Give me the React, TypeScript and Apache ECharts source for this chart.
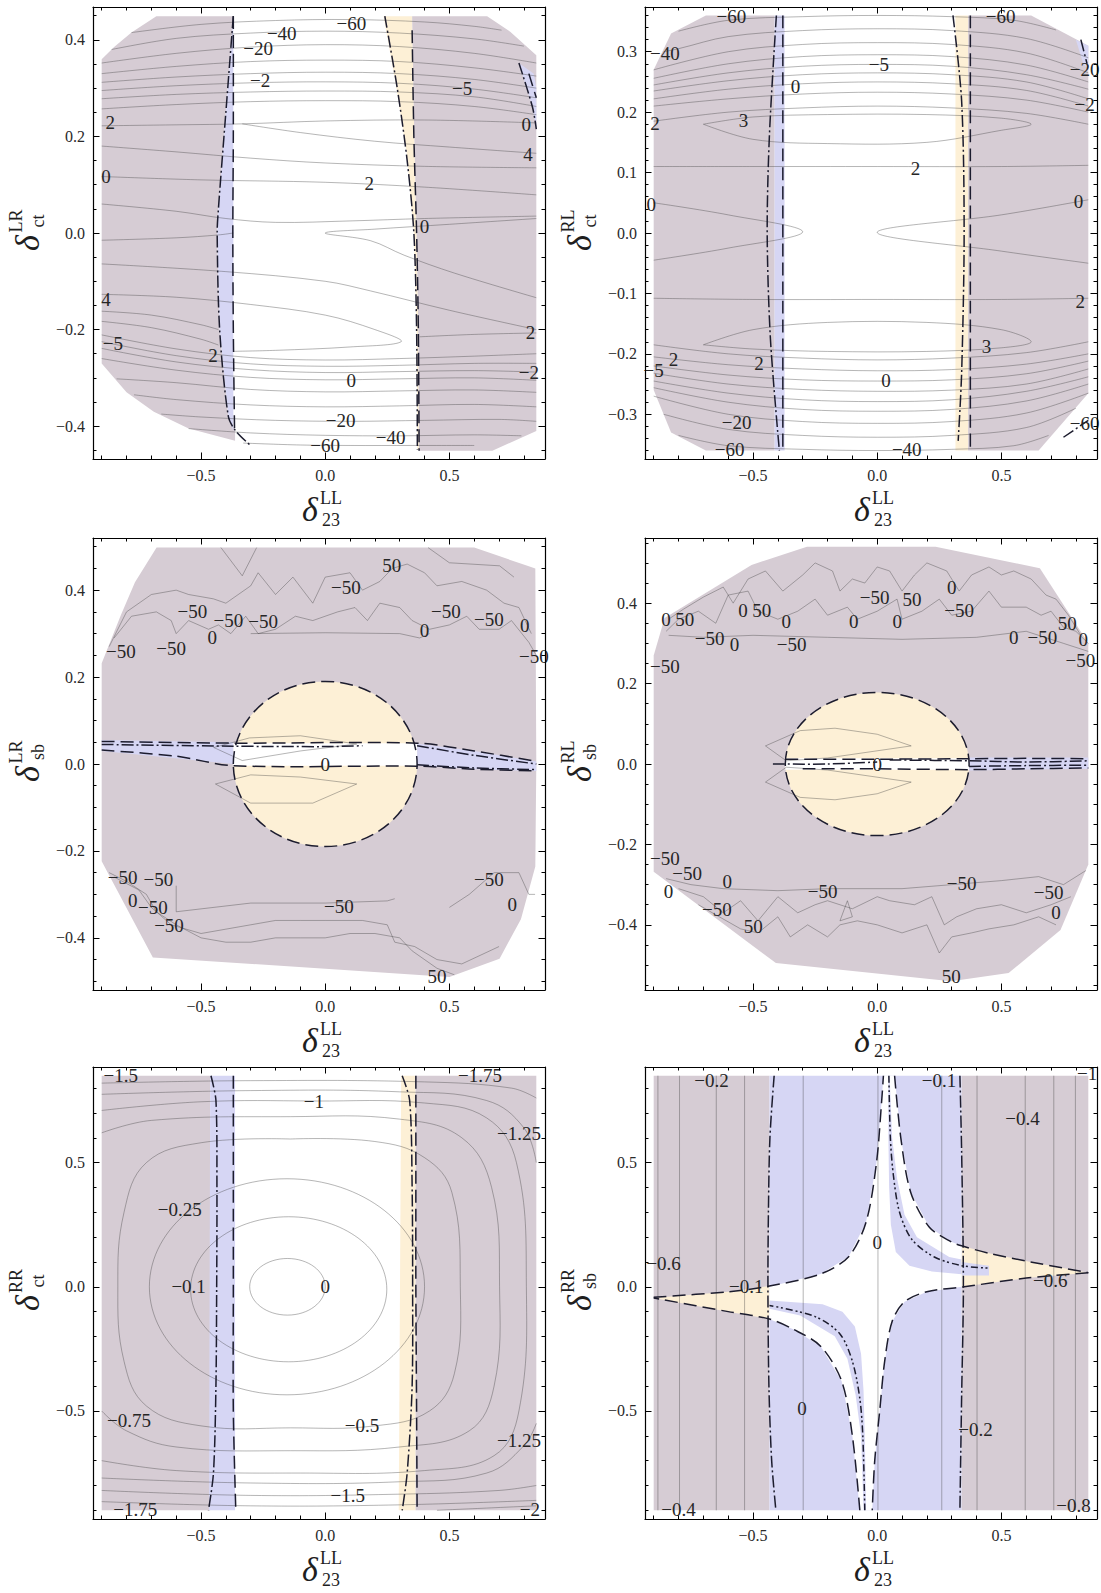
import React, { useEffect, useRef } from "react";
import * as echarts from "echarts";

type P = number[];
type Lb = [number, number, string];

// ---------------- ticks ----------------
const X_LABELS = [-0.5, 0, 0.5];
const X_TICKS = [-0.9, -0.8, -0.7, -0.6, -0.5, -0.4, -0.3, -0.2, -0.1, 0, 0.1, 0.2, 0.3, 0.4, 0.5, 0.6, 0.7, 0.8];
const P1_Y_LABELS = [-0.4, -0.2, 0, 0.2, 0.4];
const P1_Y_TICKS = [-0.45, -0.4, -0.35, -0.3, -0.25, -0.2, -0.15, -0.1, -0.05, 0, 0.05, 0.1, 0.15, 0.2, 0.25, 0.3, 0.35, 0.4, 0.45];
const P2_Y_LABELS = [-0.3, -0.2, -0.1, 0, 0.1, 0.2, 0.3];
const P2_Y_TICKS = [-0.36, -0.34, -0.32, -0.3, -0.28, -0.26, -0.24, -0.22, -0.2, -0.18, -0.16, -0.14, -0.12, -0.1, -0.08, -0.06, -0.04, -0.02, 0, 0.02, 0.04, 0.06, 0.08, 0.1, 0.12, 0.14, 0.16, 0.18, 0.2, 0.22, 0.24, 0.26, 0.28, 0.3, 0.32, 0.34, 0.36];
const P3_Y_LABELS = [-0.4, -0.2, 0, 0.2, 0.4];
const P3_Y_TICKS = [-0.5, -0.45, -0.4, -0.35, -0.3, -0.25, -0.2, -0.15, -0.1, -0.05, 0, 0.05, 0.1, 0.15, 0.2, 0.25, 0.3, 0.35, 0.4, 0.45, 0.5];
const P4_Y_TICKS = [-0.55, -0.5, -0.45, -0.4, -0.35, -0.3, -0.25, -0.2, -0.15, -0.1, -0.05, 0, 0.05, 0.1, 0.15, 0.2, 0.25, 0.3, 0.35, 0.4, 0.45, 0.5, 0.55];
const P56_Y_LABELS = [-0.5, 0, 0.5];
const P56_Y_TICKS = [-0.9, -0.8, -0.7, -0.6, -0.5, -0.4, -0.3, -0.2, -0.1, 0, 0.1, 0.2, 0.3, 0.4, 0.5, 0.6, 0.7, 0.8];

// ---------------- panel 1 ----------------
const P1_GRAY_L: P[] = [[-0.9, 0.36], [-0.85, 0.385], [-0.78, 0.415], [-0.68, 0.449], [-0.37, 0.449], [-0.4, 0.25], [-0.43, 0.05], [-0.435, 0.0], [-0.425, -0.2], [-0.39, -0.38], [-0.363, -0.41], [-0.363, -0.43], [-0.55, -0.405], [-0.69, -0.37], [-0.8, -0.33], [-0.9, -0.27]];
const P1_BLUE_L: P[] = [[-0.37, 0.449], [-0.37, -0.41], [-0.39, -0.38], [-0.425, -0.2], [-0.435, 0.0], [-0.43, 0.05], [-0.4, 0.25]];
const P1_YELLOW: P[] = [[0.235, 0.449], [0.35, 0.449], [0.355, 0.3], [0.363, 0.1], [0.368, 0.0], [0.375, -0.2], [0.378, -0.449], [0.371, -0.449], [0.368, -0.2], [0.357, 0.0], [0.328, 0.166], [0.285, 0.306]];
const P1_GRAY_R: P[] = [[0.35, 0.449], [0.652, 0.449], [0.745, 0.417], [0.85, 0.368], [0.85, -0.41], [0.673, -0.451], [0.378, -0.451], [0.375, -0.2], [0.368, 0.0], [0.363, 0.1], [0.355, 0.3]];
const P1_BLUE_R: P[] = [[0.78, 0.352], [0.84, 0.33], [0.85, 0.3], [0.85, 0.215], [0.835, 0.26]];
const P1_CONTOURS: P[][] = [
  [[-0.78, 0.415], [-0.5, 0.432], [-0.2, 0.44], [0.1, 0.442], [0.4, 0.437], [0.6, 0.428], [0.71, 0.42]],
  [[-0.86, 0.38], [-0.6, 0.403], [-0.3, 0.414], [0, 0.418], [0.3, 0.414], [0.6, 0.402], [0.8, 0.387]],
  [[-0.9, 0.352], [-0.6, 0.372], [-0.3, 0.385], [0, 0.39], [0.3, 0.386], [0.6, 0.372], [0.85, 0.352]],
  [[-0.9, 0.33], [-0.6, 0.345], [-0.3, 0.355], [0, 0.358], [0.3, 0.355], [0.6, 0.342], [0.85, 0.325]],
  [[-0.9, 0.312], [-0.6, 0.323], [-0.3, 0.33], [0, 0.333], [0.3, 0.33], [0.6, 0.318], [0.85, 0.3]],
  [[-0.9, 0.295], [-0.6, 0.305], [-0.3, 0.311], [0, 0.313], [0.3, 0.31], [0.6, 0.298], [0.85, 0.28]],
  [[-0.9, 0.278], [-0.6, 0.287], [-0.3, 0.292], [0, 0.294], [0.3, 0.292], [0.6, 0.282], [0.85, 0.262]],
  [[-0.9, 0.257], [-0.6, 0.266], [-0.3, 0.272], [0, 0.274], [0.3, 0.272], [0.6, 0.262], [0.85, 0.245]],
  [[-0.9, 0.222], [-0.6, 0.224], [-0.334, 0.226], [0, 0.232], [0.4, 0.234], [0.85, 0.228]],
  [[-0.334, 0.226], [-0.1, 0.208], [0.2, 0.19], [0.5, 0.178], [0.85, 0.165]],
  [[-0.9, 0.18], [-0.6, 0.168], [-0.3, 0.155], [0, 0.145], [0.4, 0.138], [0.85, 0.135]],
  [[-0.9, 0.117], [-0.5, 0.11], [0, 0.105], [0.4, 0.095], [0.85, 0.079]],
  [[-0.9, 0.06], [-0.6, 0.045], [-0.4, 0.03], [-0.2, 0.022], [0.1, 0.025], [0.4, 0.03], [0.85, 0.035]],
  [[-0.9, -0.015], [-0.6, -0.01], [-0.43, -0.004], [-0.37, 0.0]],
  [[0.85, 0.03], [0.5, 0.018], [0.2, 0.008], [0.0, 0.0], [0.183, -0.016], [0.318, -0.046], [0.52, -0.083], [0.85, -0.134]],
  [[-0.9, -0.064], [-0.4, -0.08], [0.0, -0.1], [0.183, -0.12], [0.5, -0.16], [0.85, -0.2]],
  [[-0.9, -0.127], [-0.6, -0.133], [-0.3, -0.148], [0, -0.17], [0.2, -0.2], [0.306, -0.225], [0.1, -0.236], [-0.2, -0.243], [-0.37, -0.245]],
  [[0.38, -0.215], [0.6, -0.21], [0.85, -0.207]],
  [[-0.9, -0.162], [-0.7, -0.17], [-0.5, -0.19], [-0.43, -0.2]],
  [[-0.9, -0.183], [-0.7, -0.196], [-0.5, -0.22], [-0.43, -0.232]],
  [[-0.9, -0.211], [-0.6, -0.24], [-0.3, -0.258], [0, -0.263], [0.3, -0.26], [0.6, -0.255], [0.85, -0.25]],
  [[-0.9, -0.225], [-0.6, -0.254], [-0.3, -0.271], [0, -0.276], [0.3, -0.274], [0.6, -0.27], [0.85, -0.27]],
  [[-0.9, -0.239], [-0.6, -0.267], [-0.3, -0.283], [0, -0.289], [0.3, -0.287], [0.6, -0.285], [0.85, -0.288]],
  [[-0.9, -0.26], [-0.6, -0.284], [-0.3, -0.299], [0, -0.304], [0.3, -0.302], [0.6, -0.3], [0.85, -0.305]],
  [[-0.84, -0.302], [-0.6, -0.31], [-0.3, -0.324], [0, -0.329], [0.3, -0.327], [0.6, -0.325], [0.85, -0.33]],
  [[-0.77, -0.335], [-0.6, -0.345], [-0.3, -0.356], [0, -0.36], [0.3, -0.358], [0.6, -0.355], [0.85, -0.36]],
  [[-0.66, -0.375], [-0.5, -0.381], [-0.2, -0.388], [0.1, -0.39], [0.4, -0.388], [0.7, -0.386], [0.85, -0.39]],
  [[-0.55, -0.405], [-0.3, -0.414], [0, -0.419], [0.3, -0.42], [0.6, -0.418], [0.79, -0.42]],
  [[-0.33, -0.435], [-0.1, -0.439], [0.1, -0.44], [0.35, -0.44], [0.6, -0.44]],
];
const P1_DASHDOT: P[][] = [
  [[-0.37, 0.449], [-0.4, 0.25], [-0.43, 0.05], [-0.435, 0.0], [-0.425, -0.2], [-0.39, -0.38], [-0.36, -0.41], [-0.305, -0.438]],
  [[0.24, 0.449], [0.29, 0.3], [0.33, 0.15], [0.357, 0.0], [0.368, -0.2], [0.371, -0.449]],
  [[0.78, 0.352], [0.835, 0.26], [0.85, 0.215]],
];
const P1_DASHED: P[][] = [
  [[-0.37, 0.449], [-0.37, 0.2], [-0.372, 0.0], [-0.37, -0.2], [-0.365, -0.41]],
  [[0.35, 0.42], [0.357, 0.2], [0.368, 0.0], [0.375, -0.2], [0.378, -0.451]],
  [[0.82, 0.33], [0.85, 0.28]],
];
const P1_LABELS: Lb[] = [[0.105, 0.433, "−60"], [-0.175, 0.414, "−40"], [-0.27, 0.383, "−20"], [-0.262, 0.316, "−2"], [0.551, 0.3, "−5"], [-0.866, 0.229, "2"], [0.81, 0.225, "0"], [0.817, 0.163, "4"], [-0.883, 0.117, "0"], [0.177, 0.103, "2"], [0.4, 0.013, "0"], [-0.883, -0.137, "4"], [-0.855, -0.228, "−5"], [0.827, -0.207, "2"], [-0.452, -0.253, "2"], [0.82, -0.288, "−2"], [0.105, -0.305, "0"], [0.062, -0.389, "−20"], [0.263, -0.424, "−40"], [0.0, -0.44, "−60"]];

// ---------------- panel 2 ----------------
const P2_GRAY_L: P[] = [[-0.9, 0.27], [-0.83, 0.33], [-0.69, 0.36], [-0.413, 0.36], [-0.413, -0.36], [-0.69, -0.36], [-0.83, -0.33], [-0.9, -0.26]];
const P2_BLUE_L: P[] = [[-0.413, 0.36], [-0.373, 0.36], [-0.373, -0.36], [-0.413, -0.36]];
const P2_YELLOW: P[] = [[0.315, 0.36], [0.366, 0.36], [0.366, -0.36], [0.315, -0.36]];
const P2_GRAY_R: P[] = [[0.366, 0.36], [0.62, 0.36], [0.85, 0.31], [0.85, -0.265], [0.65, -0.36], [0.366, -0.36]];
const P2_BLUE_R: P[] = [[0.8, 0.32], [0.85, 0.31], [0.85, 0.27], [0.83, 0.28]];
const P2_CONTOURS: P[][] = [
  [[-0.8, 0.334], [-0.6, 0.352], [-0.3, 0.358], [0, 0.36], [0.3, 0.358], [0.55, 0.352], [0.72, 0.336]],
  [[-0.86, 0.3], [-0.8, 0.305], [-0.6, 0.325], [-0.3, 0.335], [0, 0.338], [0.3, 0.335], [0.6, 0.322], [0.85, 0.29]],
  [[-0.9, 0.27], [-0.6, 0.3], [-0.3, 0.312], [0, 0.315], [0.3, 0.312], [0.6, 0.298], [0.85, 0.265]],
  [[-0.9, 0.256], [-0.6, 0.28], [-0.3, 0.292], [0, 0.295], [0.3, 0.292], [0.6, 0.278], [0.85, 0.25]],
  [[-0.9, 0.245], [-0.6, 0.265], [-0.3, 0.276], [0, 0.279], [0.3, 0.276], [0.6, 0.262], [0.85, 0.238]],
  [[-0.9, 0.235], [-0.6, 0.252], [-0.3, 0.262], [0, 0.265], [0.3, 0.262], [0.6, 0.25], [0.85, 0.222]],
  [[-0.9, 0.222], [-0.6, 0.238], [-0.3, 0.247], [0, 0.25], [0.3, 0.247], [0.6, 0.236], [0.85, 0.21]],
  [[-0.9, 0.21], [-0.6, 0.222], [-0.3, 0.23], [0, 0.233], [0.3, 0.23], [0.6, 0.22], [0.85, 0.2]],
  [[-0.9, 0.185], [-0.6, 0.2], [-0.3, 0.207], [0, 0.21], [0.3, 0.207], [0.6, 0.198], [0.85, 0.18]],
  [[-0.7, 0.18], [-0.5, 0.192], [-0.2, 0.196], [0.2, 0.196], [0.5, 0.19], [0.62, 0.18], [0.5, 0.17], [0.2, 0.15], [-0.2, 0.148], [-0.5, 0.155], [-0.7, 0.18]],
  [[-0.9, 0.11], [-0.5, 0.11], [0, 0.11], [0.5, 0.11], [0.85, 0.112]],
  [[-0.9, 0.05], [-0.6, 0.03], [-0.3, 0.002], [-0.6, -0.025], [-0.9, -0.045]],
  [[0.85, 0.055], [0.5, 0.03], [0.0, 0.001], [0.5, -0.03], [0.85, -0.05]],
  [[-0.9, -0.108], [-0.5, -0.11], [0, -0.11], [0.5, -0.11], [0.85, -0.108]],
  [[-0.7, -0.185], [-0.5, -0.16], [-0.2, -0.148], [0.2, -0.148], [0.5, -0.16], [0.62, -0.18], [0.5, -0.19], [0.2, -0.196], [-0.2, -0.196], [-0.5, -0.192], [-0.7, -0.185]],
  [[-0.9, -0.185], [-0.6, -0.2], [-0.3, -0.207], [0, -0.21], [0.3, -0.207], [0.6, -0.198], [0.85, -0.18]],
  [[-0.9, -0.205], [-0.6, -0.218], [-0.3, -0.225], [0, -0.228], [0.3, -0.226], [0.6, -0.217], [0.85, -0.2]],
  [[-0.9, -0.22], [-0.6, -0.235], [-0.3, -0.243], [0, -0.245], [0.3, -0.243], [0.6, -0.233], [0.85, -0.212]],
  [[-0.9, -0.232], [-0.6, -0.25], [-0.3, -0.259], [0, -0.262], [0.3, -0.26], [0.6, -0.25], [0.85, -0.225]],
  [[-0.9, -0.245], [-0.6, -0.265], [-0.3, -0.276], [0, -0.279], [0.3, -0.276], [0.6, -0.262], [0.85, -0.238]],
  [[-0.9, -0.256], [-0.6, -0.28], [-0.3, -0.292], [0, -0.295], [0.3, -0.292], [0.6, -0.278], [0.85, -0.25]],
  [[-0.9, -0.27], [-0.6, -0.3], [-0.3, -0.312], [0, -0.315], [0.3, -0.312], [0.6, -0.298], [0.85, -0.265]],
  [[-0.86, -0.3], [-0.6, -0.325], [-0.3, -0.335], [0, -0.338], [0.3, -0.335], [0.6, -0.322], [0.8, -0.29]],
  [[-0.8, -0.335], [-0.6, -0.352], [-0.3, -0.358], [0, -0.36], [0.3, -0.358], [0.55, -0.352], [0.69, -0.335]],
];
const P2_DASHDOT: P[][] = [
  [[-0.406, 0.36], [-0.434, 0.162], [-0.443, 0.0], [-0.43, -0.175], [-0.394, -0.36]],
  [[0.305, 0.36], [0.34, 0.218], [0.35, 0.0], [0.34, -0.231], [0.326, -0.344]],
  [[0.82, 0.32], [0.845, 0.28]],
  [[0.75, -0.338], [0.85, -0.31]],
];
const P2_DASHED: P[][] = [
  [[-0.38, 0.36], [-0.38, -0.36]],
  [[0.375, 0.36], [0.375, -0.36]],
];
const P2_LABELS: Lb[] = [[-0.587, 0.358, "−60"], [0.497, 0.358, "−60"], [-0.855, 0.297, "−40"], [0.007, 0.279, "−5"], [0.835, 0.271, "−20"], [-0.329, 0.242, "0"], [0.835, 0.213, "−2"], [-0.538, 0.187, "3"], [-0.895, 0.181, "2"], [0.154, 0.107, "2"], [-0.91, 0.047, "0"], [0.811, 0.052, "0"], [0.818, -0.113, "2"], [0.44, -0.187, "3"], [-0.476, -0.216, "2"], [-0.9, -0.228, "−5"], [-0.82, -0.21, "2"], [0.035, -0.244, "0"], [-0.566, -0.313, "−20"], [-0.594, -0.358, "−60"], [0.119, -0.358, "−40"], [0.835, -0.315, "−60"]];

// ---------------- panel 3 ----------------
const P3_GRAY: P[] = [[-0.9, 0.232], [-0.823, 0.342], [-0.766, 0.418], [-0.679, 0.498], [0.6, 0.498], [0.814, 0.456], [0.846, 0.45], [0.85, 0.0], [0.846, -0.236], [0.788, -0.357], [0.702, -0.448], [0.5, -0.49], [-0.694, -0.445], [-0.9, -0.224]];
const P3_DISK = [0, 0, 0.37, 0.19];
const P3_BLUE_L: P[] = [[-0.9, 0.055], [-0.37, 0.05], [-0.37, 0.0], [-0.9, 0.03]];
const P3_BLUE_R: P[] = [[0.37, 0.047], [0.6, 0.03], [0.85, 0.006], [0.85, -0.016], [0.6, -0.012], [0.37, -0.004]];
const P3_WHITE: P[] = [[-0.37, 0.048], [0.37, 0.048], [0.37, -0.004], [-0.37, -0.004]];
const P3_CONTOURS: P[][] = [
  [[-0.87, 0.27], [-0.8, 0.35], [-0.7, 0.39], [-0.6, 0.4], [-0.55, 0.39], [-0.45, 0.38], [-0.4, 0.37], [-0.3, 0.41], [-0.27, 0.44], [-0.2, 0.39], [-0.13, 0.43], [-0.05, 0.37], [0.0, 0.43], [0.1, 0.44], [0.15, 0.4], [0.22, 0.42], [0.27, 0.45], [0.33, 0.46], [0.4, 0.44], [0.45, 0.41], [0.55, 0.42], [0.65, 0.4], [0.72, 0.37], [0.78, 0.36], [0.83, 0.3]],
  [[-0.85, 0.29], [-0.78, 0.34], [-0.68, 0.35], [-0.62, 0.33], [-0.6, 0.3], [-0.55, 0.33], [-0.47, 0.31], [-0.43, 0.32], [-0.38, 0.3], [-0.32, 0.34], [-0.27, 0.3], [-0.2, 0.31], [-0.12, 0.34], [-0.05, 0.33], [0.05, 0.35], [0.12, 0.36], [0.17, 0.33], [0.22, 0.37], [0.3, 0.36], [0.35, 0.33], [0.42, 0.31], [0.5, 0.32], [0.57, 0.34], [0.62, 0.31], [0.7, 0.31], [0.75, 0.33], [0.82, 0.28], [0.85, 0.25]],
  [[-0.3, 0.3], [0.0, 0.302], [0.3, 0.3], [0.38, 0.29], [0.42, 0.3]],
  [[-0.42, 0.498], [-0.334, 0.433], [-0.276, 0.498]],
  [[0.414, 0.498], [0.5, 0.463], [0.702, 0.456], [0.76, 0.43]],
  [[-0.87, -0.25], [-0.8, -0.27], [-0.72, -0.3], [-0.68, -0.34], [-0.6, -0.37], [-0.5, -0.4], [-0.4, -0.41], [-0.3, -0.41], [-0.2, -0.4], [-0.1, -0.4], [0.0, -0.4], [0.1, -0.39], [0.2, -0.39], [0.3, -0.4], [0.35, -0.43], [0.45, -0.47], [0.52, -0.485]],
  [[-0.85, -0.26], [-0.75, -0.29], [-0.7, -0.33], [-0.62, -0.37], [-0.5, -0.39], [-0.4, -0.38], [-0.3, -0.37], [-0.2, -0.36], [-0.1, -0.36], [0.0, -0.36], [0.15, -0.36], [0.25, -0.37], [0.28, -0.41], [0.36, -0.42], [0.45, -0.45], [0.55, -0.46], [0.7, -0.42]],
  [[-0.6, -0.28], [-0.6, -0.34], [-0.3, -0.32], [0.0, -0.32], [0.25, -0.315], [0.28, -0.31]],
  [[0.5, -0.33], [0.58, -0.3], [0.68, -0.25], [0.78, -0.25], [0.82, -0.3], [0.845, -0.3]],
  [[-0.334, 0.008], [-0.449, 0.038], [-0.305, 0.06], [-0.1, 0.065], [0.127, 0.046], [-0.1, 0.03], [-0.334, 0.008]],
  [[-0.442, -0.046], [-0.3, -0.025], [-0.1, -0.03], [0.127, -0.046], [-0.05, -0.09], [-0.3, -0.09], [-0.442, -0.046]],
];
const P3_DASHED: P[][] = [
  [[-0.9, 0.052], [-0.37, 0.048], [0.37, 0.048], [0.6, 0.03], [0.85, 0.006]],
  [[-0.9, 0.032], [-0.6, 0.018], [-0.37, -0.004], [0.37, -0.005], [0.6, -0.012], [0.85, -0.016]],
];
const P3_DASHDOT: P[][] = [
  [[-0.9, 0.045], [-0.37, 0.041], [0.0, 0.04], [0.15, 0.042]],
  [[0.37, 0.042], [0.6, 0.02], [0.85, 0.0]],
  [[0.37, -0.002], [0.6, -0.009], [0.85, -0.013]],
];
const P3_LABELS: Lb[] = [[0.268, 0.456, "50"], [0.083, 0.407, "−50"], [-0.535, 0.352, "−50"], [-0.39, 0.331, "−50"], [-0.25, 0.327, "−50"], [-0.455, 0.29, "0"], [0.486, 0.351, "−50"], [0.4, 0.308, "0"], [0.659, 0.333, "−50"], [0.803, 0.318, "0"], [0.84, 0.247, "−50"], [-0.823, 0.26, "−50"], [-0.62, 0.266, "−50"], [0, 0, "0"], [-0.816, -0.262, "−50"], [-0.672, -0.266, "−50"], [-0.775, -0.315, "0"], [-0.694, -0.331, "−50"], [-0.629, -0.372, "−50"], [0.055, -0.327, "−50"], [0.659, -0.266, "−50"], [0.753, -0.323, "0"], [0.45, -0.49, "50"]];

// ---------------- panel 4 ----------------
const P4_GRAY: P[] = [[-0.9, 0.27], [-0.856, 0.363], [-0.506, 0.495], [-0.283, 0.54], [0.235, 0.54], [0.655, 0.487], [0.85, 0.3], [0.85, -0.25], [0.738, -0.413], [0.529, -0.52], [0.298, -0.54], [-0.408, -0.495], [-0.9, -0.268]];
const P4_DISK = [0, 0, 0.37, 0.178];
const P4_WHITE: P[] = [[-0.37, 0.014], [0.37, 0.014], [0.37, -0.014], [-0.37, -0.014]];
const P4_BLUE_R: P[] = [[0.37, 0.016], [0.85, 0.016], [0.85, -0.012], [0.37, -0.016]];
const P4_CONTOURS: P[][] = [
  [[-0.84, 0.36], [-0.78, 0.385], [-0.7, 0.415], [-0.62, 0.44], [-0.58, 0.4], [-0.52, 0.46], [-0.45, 0.48], [-0.38, 0.43], [-0.3, 0.47], [-0.25, 0.5], [-0.18, 0.48], [-0.15, 0.43], [-0.1, 0.46], [-0.05, 0.45], [0.0, 0.49], [0.05, 0.48], [0.1, 0.43], [0.15, 0.47], [0.2, 0.5], [0.28, 0.48], [0.33, 0.43], [0.38, 0.47], [0.45, 0.49], [0.5, 0.47], [0.55, 0.48], [0.62, 0.46], [0.68, 0.42], [0.72, 0.41], [0.77, 0.37], [0.82, 0.32]],
  [[-0.85, 0.33], [-0.8, 0.36], [-0.72, 0.38], [-0.65, 0.35], [-0.6, 0.42], [-0.52, 0.43], [-0.48, 0.38], [-0.4, 0.36], [-0.32, 0.38], [-0.25, 0.41], [-0.2, 0.37], [-0.12, 0.39], [-0.08, 0.36], [0.0, 0.38], [0.08, 0.41], [0.1, 0.36], [0.18, 0.38], [0.25, 0.41], [0.3, 0.37], [0.38, 0.38], [0.45, 0.43], [0.5, 0.39], [0.6, 0.39], [0.66, 0.37], [0.7, 0.38], [0.75, 0.34], [0.8, 0.33], [0.85, 0.3]],
  [[-0.84, 0.32], [-0.7, 0.315], [-0.5, 0.32], [-0.2, 0.315], [0.1, 0.31], [0.4, 0.315], [0.6, 0.33], [0.75, 0.3], [0.85, 0.28]],
  [[-0.85, -0.285], [-0.75, -0.3], [-0.62, -0.31], [-0.4, -0.315], [-0.2, -0.31], [0.1, -0.31], [0.3, -0.3], [0.5, -0.29], [0.65, -0.28], [0.75, -0.3], [0.84, -0.265]],
  [[-0.8, -0.31], [-0.7, -0.33], [-0.62, -0.37], [-0.55, -0.34], [-0.48, -0.39], [-0.4, -0.33], [-0.32, -0.37], [-0.25, -0.35], [-0.2, -0.34], [-0.1, -0.36], [0.0, -0.33], [0.05, -0.34], [0.15, -0.35], [0.22, -0.33], [0.27, -0.4], [0.32, -0.38], [0.4, -0.36], [0.5, -0.35], [0.6, -0.37], [0.7, -0.35], [0.78, -0.33]],
  [[-0.72, -0.35], [-0.65, -0.375], [-0.55, -0.41], [-0.48, -0.42], [-0.4, -0.38], [-0.35, -0.43], [-0.28, -0.4], [-0.2, -0.43], [-0.15, -0.4], [-0.08, -0.39], [0.0, -0.4], [0.1, -0.42], [0.2, -0.4], [0.25, -0.47], [0.3, -0.43], [0.38, -0.42], [0.45, -0.41], [0.55, -0.4], [0.65, -0.38], [0.72, -0.4]],
  [[-0.15, -0.39], [-0.12, -0.34], [-0.1, -0.38], [-0.15, -0.39]],
  [[-0.366, 0.008], [-0.45, 0.045], [-0.31, 0.083], [-0.17, 0.089], [0.0, 0.074], [0.137, 0.045], [-0.2, 0.015], [-0.366, 0.008]],
  [[-0.366, -0.008], [-0.45, -0.045], [-0.31, -0.083], [-0.17, -0.089], [0.0, -0.074], [0.137, -0.045], [-0.2, -0.015], [-0.366, -0.008]],
];
const P4_DASHED: P[][] = [
  [[-0.37, 0.012], [0.0, 0.012], [0.37, 0.013], [0.6, 0.014], [0.85, 0.013]],
  [[-0.3, -0.012], [0.0, -0.012], [0.37, -0.014], [0.6, -0.012], [0.85, -0.01]],
];
const P4_DASHDOT: P[][] = [
  [[-0.42, 0.0], [-0.2, 0.0], [0.0, 0.005]],
  [[0.05, 0.01], [0.37, 0.008], [0.6, 0.005], [0.85, 0.008]],
  [[0.37, -0.006], [0.6, -0.004], [0.85, -0.003]],
];
const P4_LABELS: Lb[] = [[-0.01, 0.413, "−50"], [0.14, 0.41, "50"], [0.3, 0.44, "0"], [0.33, 0.382, "−50"], [-0.465, 0.381, "50"], [-0.54, 0.381, "0"], [-0.85, 0.36, "0"], [-0.775, 0.36, "50"], [-0.366, 0.355, "0"], [-0.094, 0.355, "0"], [0.081, 0.355, "0"], [-0.675, 0.312, "−50"], [-0.575, 0.296, "0"], [-0.345, 0.297, "−50"], [0.55, 0.315, "0"], [0.665, 0.315, "−50"], [0.765, 0.35, "50"], [0.83, 0.31, "0"], [0.818, 0.258, "−50"], [-0.855, 0.243, "−50"], [0, 0, "0"], [-0.855, -0.236, "−50"], [-0.765, -0.272, "−50"], [-0.84, -0.316, "0"], [-0.604, -0.293, "0"], [-0.22, -0.318, "−50"], [-0.646, -0.362, "−50"], [-0.499, -0.404, "50"], [0.34, -0.297, "−50"], [0.69, -0.32, "−50"], [0.72, -0.37, "0"], [0.298, -0.528, "50"]];

// ---------------- panel 5 ----------------
const P5_GRAY_L: P[] = [[-0.9, 0.85], [-0.463, 0.85], [-0.463, -0.9], [-0.9, -0.9]];
const P5_BLUE: P[] = [[-0.463, 0.85], [-0.363, 0.85], [-0.363, -0.9], [-0.468, -0.9]];
const P5_YELLOW: P[] = [[0.306, 0.85], [0.364, 0.85], [0.364, -0.9], [0.296, -0.9]];
const P5_GRAY_R: P[] = [[0.364, 0.85], [0.85, 0.85], [0.85, -0.9], [0.364, -0.9]];
const P5_RINGS = [[-0.152, 0, 0.152, 0.114], [-0.147, -0.01, 0.395, 0.292], [-0.154, 0, 0.554, 0.435]];
const P5_CONTOURS: P[][] = [
  [[-0.14, 0.595], [0.2, 0.585], [0.4, 0.52], [0.51, 0.38], [0.544, 0.0], [0.52, -0.35], [0.42, -0.5], [0.2, -0.56], [-0.14, -0.568], [-0.5, -0.56], [-0.72, -0.48], [-0.81, -0.3], [-0.835, 0.0], [-0.81, 0.3], [-0.72, 0.5], [-0.5, 0.58], [-0.14, 0.595]],
  [[-0.9, 0.62], [-0.7, 0.67], [-0.14, 0.685], [0.3, 0.675], [0.55, 0.6], [0.67, 0.4], [0.702, 0.0], [0.68, -0.4], [0.58, -0.58], [0.3, -0.645], [-0.14, -0.66], [-0.6, -0.645], [-0.8, -0.58], [-0.9, -0.5]],
  [[-0.9, 0.71], [-0.5, 0.745], [-0.046, 0.748], [0.4, 0.74], [0.65, 0.68], [0.77, 0.5], [0.81, 0.0], [0.78, -0.5], [0.68, -0.68], [0.4, -0.74], [-0.1, -0.75], [-0.6, -0.74], [-0.9, -0.7]],
  [[-0.9, 0.775], [-0.3, 0.79], [0.3, 0.785], [0.65, 0.75], [0.8, 0.64], [0.85, 0.5]],
  [[-0.9, -0.77], [-0.3, -0.79], [0.3, -0.785], [0.65, -0.75], [0.8, -0.64], [0.85, -0.55]],
  [[-0.9, 0.82], [-0.3, 0.83], [0.4, 0.825], [0.75, 0.8], [0.85, 0.76]],
  [[-0.9, -0.82], [-0.3, -0.84], [0.3, -0.835], [0.7, -0.82], [0.85, -0.8]],
  [[-0.9, -0.865], [-0.3, -0.882], [0.3, -0.878], [0.85, -0.86]],
  [[0.45, -0.9], [0.85, -0.882]],
];
const P5_DASHDOT: P[][] = [
  [[-0.46, 0.85], [-0.44, 0.75], [-0.436, 0.4], [-0.437, 0.0], [-0.44, -0.4], [-0.45, -0.75], [-0.47, -0.9]],
  [[0.31, 0.85], [0.34, 0.75], [0.35, 0.4], [0.352, 0.0], [0.35, -0.4], [0.33, -0.75], [0.31, -0.9]],
];
const P5_DASHED: P[][] = [
  [[-0.37, 0.85], [-0.37, 0.4], [-0.37, 0.0], [-0.37, -0.5], [-0.36, -0.9]],
  [[0.365, 0.85], [0.365, 0.4], [0.365, 0.0], [0.368, -0.5], [0.37, -0.9]],
];
const P5_LABELS: Lb[] = [[-0.823, 0.852, "−1.5"], [-0.046, 0.748, "−1"], [0.623, 0.852, "−1.75"], [0.78, 0.616, "−1.25"], [-0.586, 0.313, "−0.25"], [-0.55, 0, "−0.1"], [0, 0, "0"], [-0.79, -0.54, "−0.75"], [0.148, -0.558, "−0.5"], [0.78, -0.617, "−1.25"], [0.091, -0.84, "−1.5"], [-0.765, -0.896, "−1.75"], [0.824, -0.896, "−2"]];

// ---------------- panel 6 ----------------
const P6_GRAY_L: P[] = [[-0.9, 0.85], [-0.434, 0.85], [-0.434, -0.9], [-0.9, -0.9]];
const P6_BLUE: P[] = [[-0.434, 0.85], [0.34, 0.85], [0.34, -0.9], [-0.434, -0.9]];
const P6_GRAY_R: P[] = [[0.34, 0.85], [0.85, 0.85], [0.85, -0.9], [0.34, -0.9]];
const P6_YEL_L: P[] = [[-0.434, -0.13], [-0.6, -0.1], [-0.9, -0.045], [-0.6, -0.02], [-0.434, 0.003]];
const P6_YEL_R: P[] = [[0.34, 0.165], [0.45, 0.135], [0.623, 0.099], [0.85, 0.057], [0.6, 0.035], [0.34, 0.0]];
const P6_NOTCH: P[] = [[0.34, 0.1], [0.45, 0.085], [0.45, 0.045], [0.34, 0.045]];
const P6_BAND_I: P[] = [[0.05, 0.85], [0.06, 0.6], [0.08, 0.436], [0.11, 0.29], [0.16, 0.199], [0.29, 0.12], [0.34, 0.11], [0.34, 0.165], [0.3, 0.18], [0.21, 0.24], [0.135, 0.38], [0.095, 0.6], [0.07, 0.85]];
const P6_BAND_III: P[] = [[-0.055, -0.9], [-0.065, -0.6], [-0.087, -0.436], [-0.12, -0.29], [-0.171, -0.199], [-0.31, -0.116], [-0.434, -0.088], [-0.434, -0.13], [-0.338, -0.171], [-0.227, -0.24], [-0.143, -0.38], [-0.1, -0.6], [-0.07, -0.9]];
const P6_CORE: P[] = [[0.025, 0.85], [0.045, 0.85], [0.045, 0.6], [0.048, 0.4], [0.055, 0.25], [0.075, 0.14], [0.13, 0.085], [0.22, 0.062], [0.34, 0.05], [0.34, 0.0], [0.2, -0.02], [0.11, -0.06], [0.06, -0.14], [0.03, -0.3], [0.01, -0.5], [-0.01, -0.7], [-0.02, -0.9], [-0.045, -0.9], [-0.05, -0.6], [-0.055, -0.42], [-0.065, -0.27], [-0.09, -0.16], [-0.14, -0.1], [-0.22, -0.07], [-0.434, -0.055], [-0.434, 0.0], [-0.227, 0.052], [-0.115, 0.121], [-0.045, 0.26], [-0.003, 0.499], [0.018, 0.749]];
const P6_VLINES = [-0.883, -0.796, -0.648, -0.534, -0.298, 0.003, 0.26, 0.402, 0.596, 0.711, 0.798];
const P6_DASHED: P[][] = [
  [[0.07, 0.85], [0.095, 0.6], [0.135, 0.38], [0.21, 0.24], [0.3, 0.18], [0.34, 0.165], [0.45, 0.135], [0.623, 0.099], [0.85, 0.057]],
  [[-0.9, -0.042], [-0.6, -0.02], [-0.434, 0.003], [-0.227, 0.052], [-0.115, 0.121], [-0.045, 0.26], [-0.003, 0.499], [0.018, 0.749], [0.025, 0.85]],
  [[-0.07, -0.9], [-0.1, -0.6], [-0.143, -0.38], [-0.227, -0.24], [-0.338, -0.171], [-0.434, -0.13], [-0.6, -0.1], [-0.9, -0.045]],
  [[0.85, 0.057], [0.6, 0.035], [0.35, 0.0], [0.2, -0.02], [0.11, -0.06], [0.06, -0.14], [0.03, -0.3], [0.01, -0.5], [-0.01, -0.7], [-0.02, -0.9]],
];
const P6_DASHDOT: P[][] = [
  [[-0.415, 0.85], [-0.432, 0.6], [-0.438, 0.3], [-0.44, 0.0], [-0.436, -0.4], [-0.425, -0.7], [-0.408, -0.9]],
  [[0.333, 0.85], [0.34, 0.54], [0.347, 0.0], [0.34, -0.436], [0.333, -0.9]],
];
const P6_DASHDOTDOT: P[][] = [
  [[0.047, 0.85], [0.053, 0.6], [0.065, 0.45], [0.09, 0.3], [0.14, 0.19], [0.23, 0.12], [0.34, 0.085], [0.45, 0.075]],
  [[-0.05, -0.9], [-0.058, -0.6], [-0.07, -0.45], [-0.1, -0.3], [-0.15, -0.19], [-0.25, -0.12], [-0.434, -0.075]],
];
const P6_LABELS: Lb[] = [[-0.667, 0.829, "−0.2"], [0.249, 0.829, "−0.1"], [0.845, 0.859, "−1"], [0.585, 0.678, "−0.4"], [0, 0.177, "0"], [-0.86, 0.093, "−0.6"], [-0.527, 0, "−0.1"], [0.697, 0.026, "−0.6"], [-0.303, -0.492, "0"], [0.396, -0.575, "−0.2"], [-0.8, -0.896, "−0.4"], [0.79, -0.882, "−0.8"]];

// ---------------- styling ----------------
const GRAY = "#d6ccd4";
const BLUE = "#d6d6f4";
const YELLOW = "#fdf0d6";
const WHITE = "#ffffff";
const INK = "#1c1c2e";
const CONTOUR = "rgba(60,60,60,0.42)";
const SERIF = "Liberation Serif";
const DASH = [13, 6];
const DASHDOT = [12, 3, 2, 3];
const DASHDOTDOT = [7, 3, 2, 2.5, 2, 3];
const LABEL_SIZE = 19;
const TICK_SIZE = 16;

const GRID_LEFT = [93, 645];
const GRID_TOP = [7, 538, 1067];
const GRID_W = 452;
const GRID_H = 452;

type Item =
  | { k: "poly"; pts: P[]; fill: string }
  | { k: "ellFill"; e: number[]; fill: string }
  | { k: "ellLine"; e: number[]; dash: number[] | null; color: string; w: number }
  | { k: "line"; pts: P[]; dash: number[] | null; color: string; w: number; smooth: number }
  | { k: "text"; at: P; text: string };

interface Panel {
  col: number; row: number; x: number[]; y: number[]; yl: number[]; yt: number[];
  sup: string; sub: string; fills: Item[]; contours: Item[]; bounds: Item[]; labels: Lb[];
}

const poly = (pts: P[], fill: string): Item => ({ k: "poly", pts, fill });
const lines = (arr: P[][], smooth: number): Item[] => arr.map((pts) => ({ k: "line", pts, dash: null, color: CONTOUR, w: 0.9, smooth }));
const bnd = (arr: P[][], dash: number[]): Item[] => arr.map((pts) => ({ k: "line", pts, dash, color: INK, w: 1.5, smooth: 0.3 }));

const PANELS: Panel[] = [
  {
    col: 0, row: 0, x: [-0.935, 0.885], y: [-0.468, 0.468], yl: P1_Y_LABELS, yt: P1_Y_TICKS, sup: "LR", sub: "ct",
    fills: [poly(P1_GRAY_L, GRAY), poly(P1_BLUE_L, BLUE), poly(P1_YELLOW, YELLOW), poly(P1_GRAY_R, GRAY), poly(P1_BLUE_R, BLUE)],
    contours: lines(P1_CONTOURS, 0.35),
    bounds: [...bnd(P1_DASHED, DASH), ...bnd(P1_DASHDOT, DASHDOT)],
    labels: P1_LABELS,
  },
  {
    col: 1, row: 0, x: [-0.935, 0.885], y: [-0.374, 0.374], yl: P2_Y_LABELS, yt: P2_Y_TICKS, sup: "RL", sub: "ct",
    fills: [poly(P2_GRAY_L, GRAY), poly(P2_BLUE_L, BLUE), poly(P2_YELLOW, YELLOW), poly(P2_GRAY_R, GRAY), poly(P2_BLUE_R, BLUE)],
    contours: lines(P2_CONTOURS, 0.35),
    bounds: [...bnd(P2_DASHED, DASH), ...bnd(P2_DASHDOT, DASHDOT)],
    labels: P2_LABELS,
  },
  {
    col: 0, row: 1, x: [-0.935, 0.885], y: [-0.52, 0.52], yl: P3_Y_LABELS, yt: P3_Y_TICKS, sup: "LR", sub: "sb",
    fills: [poly(P3_GRAY, GRAY), { k: "ellFill", e: P3_DISK, fill: YELLOW }, poly(P3_BLUE_L, BLUE), poly(P3_BLUE_R, BLUE), poly(P3_WHITE, WHITE)],
    contours: lines(P3_CONTOURS, 0),
    bounds: [{ k: "ellLine", e: P3_DISK, dash: DASH, color: INK, w: 1.5 }, ...bnd(P3_DASHED, DASH), ...bnd(P3_DASHDOT, DASHDOT)],
    labels: P3_LABELS,
  },
  {
    col: 1, row: 1, x: [-0.935, 0.885], y: [-0.562, 0.562], yl: P3_Y_LABELS, yt: P4_Y_TICKS, sup: "RL", sub: "sb",
    fills: [poly(P4_GRAY, GRAY), { k: "ellFill", e: P4_DISK, fill: YELLOW }, poly(P4_BLUE_R, BLUE), poly(P4_WHITE, WHITE)],
    contours: lines(P4_CONTOURS, 0),
    bounds: [{ k: "ellLine", e: P4_DISK, dash: DASH, color: INK, w: 1.5 }, ...bnd(P4_DASHED, DASH), ...bnd(P4_DASHDOT, DASHDOT)],
    labels: P4_LABELS,
  },
  {
    col: 0, row: 2, x: [-0.935, 0.885], y: [-0.935, 0.885], yl: P56_Y_LABELS, yt: P56_Y_TICKS, sup: "RR", sub: "ct",
    fills: [poly(P5_GRAY_L, GRAY), poly(P5_BLUE, BLUE), poly(P5_YELLOW, YELLOW), poly(P5_GRAY_R, GRAY)],
    contours: [
      ...P5_RINGS.map((e): Item => ({ k: "ellLine", e, dash: null, color: CONTOUR, w: 0.9 })),
      ...lines(P5_CONTOURS, 0.4),
    ],
    bounds: [...bnd(P5_DASHED, DASH), ...bnd(P5_DASHDOT, DASHDOT)],
    labels: P5_LABELS,
  },
  {
    col: 1, row: 2, x: [-0.935, 0.885], y: [-0.935, 0.885], yl: P56_Y_LABELS, yt: P56_Y_TICKS, sup: "RR", sub: "sb",
    fills: [
      poly(P6_GRAY_L, GRAY), poly(P6_BLUE, BLUE), poly(P6_GRAY_R, GRAY), poly(P6_YEL_L, YELLOW), poly(P6_YEL_R, YELLOW),
      poly(P6_NOTCH, BLUE), poly(P6_BAND_I, WHITE), poly(P6_BAND_III, WHITE), poly(P6_CORE, WHITE),
    ],
    contours: lines(P6_VLINES.map((v) => [[v, -0.9], [v, 0.85]]), 0),
    bounds: [...bnd(P6_DASHED, DASH), ...bnd(P6_DASHDOT, DASHDOT), ...bnd(P6_DASHDOTDOT, DASHDOTDOT)],
    labels: P6_LABELS,
  },
];

const fmt = (v: number) => {
  if (Math.abs(v) < 1e-9) return "0.0";
  const s = Math.abs(v).toFixed(1);
  return v < 0 ? "\u2212" + s : s;
};

function axisCfg(i: number, pos: string, range: number[], labels: number[], ticks: number[], major: boolean, showLabel: boolean) {
  return {
    gridIndex: i, type: "value", position: pos, min: range[0], max: range[1], z: 10, silent: true,
    axisLine: { show: !major, onZero: false, lineStyle: { color: "#000", width: 1.2 } },
    axisTick: { show: true, inside: true, length: major ? 6.5 : 3.5, customValues: major ? labels : ticks, lineStyle: { color: "#000", width: 1 } },
    axisLabel: showLabel
      ? { show: true, customValues: labels, formatter: fmt, margin: 8, fontFamily: SERIF, fontSize: TICK_SIZE, color: "#2a2a2a" }
      : { show: false },
    splitLine: { show: false },
  };
}

function renderFactory(items: Item[]) {
  return (params: any, api: any) => {
    const it = items[params.dataIndex];
    if (!it) return null;
    if (it.k === "poly") {
      return { type: "polygon", shape: { points: it.pts.map((p) => api.coord(p)) }, style: { fill: it.fill, stroke: null } };
    }
    if (it.k === "ellFill" || it.k === "ellLine") {
      const c = api.coord([it.e[0], it.e[1]]);
      const sz = api.size([it.e[2], it.e[3]]);
      const style: any = it.k === "ellFill"
        ? { fill: it.fill, stroke: null }
        : { fill: "none", stroke: it.color, lineWidth: it.w, lineDash: it.dash || null };
      return { type: "ellipse", shape: { cx: c[0], cy: c[1], rx: sz[0], ry: sz[1] }, style };
    }
    if (it.k === "line") {
      return {
        type: "polyline",
        shape: { points: it.pts.map((p) => api.coord(p)), smooth: it.smooth },
        style: { fill: "none", stroke: it.color, lineWidth: it.w, lineDash: it.dash || null },
      };
    }
    const c = api.coord(it.at);
    return {
      type: "text", x: c[0], y: c[1],
      style: {
        text: it.text, fill: "#262626", fontSize: LABEL_SIZE, fontFamily: SERIF,
        align: "center", verticalAlign: "middle",
      },
    };
  };
}

function customSeries(i: number, items: Item[], z: number) {
  return {
    type: "custom", coordinateSystem: "cartesian2d", xAxisIndex: 4 * i, yAxisIndex: 4 * i, z, silent: true,
    data: items.map(() => [0, 0]), renderItem: renderFactory(items), animation: false,
  };
}

function txt(x: number, y: number, text: string, size: number, italic: boolean, rotation = 0) {
  return {
    type: "text", x, y, rotation, silent: true,
    style: {
      text, fontSize: size, fontFamily: SERIF, fontStyle: italic ? "italic" : "normal",
      fill: "#1e1e1e", align: "center", verticalAlign: "middle",
    },
  };
}

function buildOption() {
  const grid: any[] = [], xAxis: any[] = [], yAxis: any[] = [], series: any[] = [], graphic: any[] = [];
  PANELS.forEach((p, i) => {
    const left = GRID_LEFT[p.col], top = GRID_TOP[p.row];
    grid.push({ left, top, width: GRID_W, height: GRID_H, show: false });
    xAxis.push(axisCfg(i, "bottom", p.x, X_LABELS, X_TICKS, false, true));
    xAxis.push(axisCfg(i, "bottom", p.x, X_LABELS, X_TICKS, true, false));
    xAxis.push(axisCfg(i, "top", p.x, X_LABELS, X_TICKS, false, false));
    xAxis.push(axisCfg(i, "top", p.x, X_LABELS, X_TICKS, true, false));
    yAxis.push(axisCfg(i, "left", p.y, p.yl, p.yt, false, true));
    yAxis.push(axisCfg(i, "left", p.y, p.yl, p.yt, true, false));
    yAxis.push(axisCfg(i, "right", p.y, p.yl, p.yt, false, false));
    yAxis.push(axisCfg(i, "right", p.y, p.yl, p.yt, true, false));

    series.push(customSeries(i, p.fills, 2));
    series.push(customSeries(i, p.contours, 3));
    series.push(customSeries(i, p.bounds, 4));
    series.push(customSeries(i, p.labels.map((l): Item => ({ k: "text", at: [l[0], l[1]], text: l[2] })), 5));

    const cx = left + GRID_W / 2, bottom = top + GRID_H, cy = top + GRID_H / 2;
    graphic.push(txt(cx - 9, bottom + 50, "δ", 34, true));
    graphic.push(txt(cx + 12, bottom + 39, "LL", 18, false));
    graphic.push(txt(cx + 12, bottom + 61, "23", 18, false));
    const yx = left - 66;
    graphic.push(txt(yx, cy + 10, "δ", 34, true, Math.PI / 2));
    graphic.push(txt(yx - 11, cy - 12, p.sup, 18, false, Math.PI / 2));
    graphic.push(txt(yx + 11, cy - 12, p.sub, 18, false, Math.PI / 2));
  });
  return { animation: false, backgroundColor: "#ffffff", grid, xAxis, yAxis, series, graphic };
}

export default function App() {
  const ref = useRef<HTMLDivElement>(null);
  useEffect(() => {
    if (!ref.current) return;
    const chart = echarts.init(ref.current, undefined, { renderer: "svg" });
    chart.setOption(buildOption() as any);
    return () => chart.dispose();
  }, []);
  return <div ref={ref} style={{ position: "absolute", left: 0, top: 0, width: 1101, height: 1593, background: "#fff" }} />;
}
